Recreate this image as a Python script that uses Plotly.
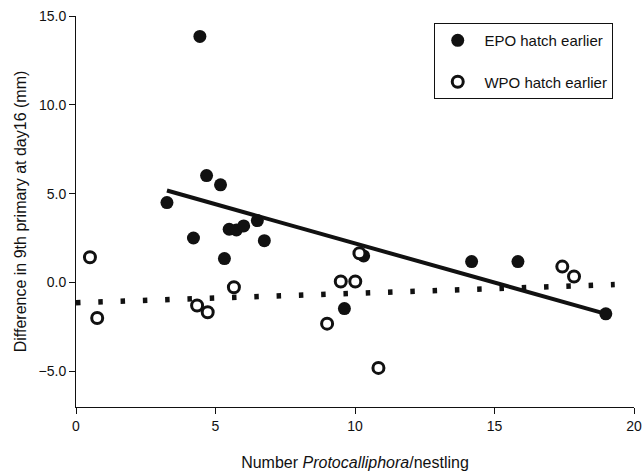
import plotly.graph_objects as go

# EPO hatch earlier (filled)
epo_x = [4.44, 3.26, 4.21, 4.68, 5.18, 5.32, 5.49, 5.75, 6.01, 6.50, 6.75, 10.31, 9.62, 14.18, 15.84, 18.99]
epo_y = [13.85, 4.50, 2.51, 6.02, 5.50, 1.35, 3.00, 2.96, 3.19, 3.49, 2.36, 1.50, -1.46, 1.18, 1.18, -1.76]

# WPO hatch earlier (open)
wpo_x = [0.50, 0.76, 4.34, 4.72, 5.66, 9.00, 9.49, 10.01, 10.16, 10.84, 17.43, 17.85]
wpo_y = [1.43, -1.99, -1.29, -1.67, -0.26, -2.31, 0.06, 0.06, 1.65, -4.80, 0.90, 0.34]

# regression lines (endpoints)
epo_fit_x = [3.26, 18.99]
epo_fit_y = [5.18, -1.76]
wpo_fit_x = [0.0, 19.31]
wpo_fit_y = [-1.13, -0.11]

x_ticks = [0, 5, 10, 15, 20]
y_ticks = [-5, 0, 5, 10, 15]

FONT = "Liberation Sans, Arial, sans-serif"
INK = "#111111"

fig = go.Figure()

fig.add_trace(go.Scatter(x=wpo_fit_x, y=wpo_fit_y, mode="lines",
                         line=dict(color=INK, width=5.5, dash="4.5px,17.8px"),
                         showlegend=False, hoverinfo="skip"))
fig.add_trace(go.Scatter(x=epo_fit_x, y=epo_fit_y, mode="lines",
                         line=dict(color=INK, width=4),
                         showlegend=False, hoverinfo="skip"))

fig.add_trace(go.Scatter(x=epo_x, y=epo_y, mode="markers", name="&nbsp;EPO hatch earlier",
                         legendgroup="a",
                         marker=dict(symbol="circle", size=13, color=INK, line=dict(width=0))))
fig.add_trace(go.Scatter(x=wpo_x, y=wpo_y, mode="markers", name="&nbsp;WPO hatch earlier",
                         legendgroup="b",
                         marker=dict(symbol="circle", size=11, color="white",
                                     line=dict(width=3, color=INK))))

fig.update_layout(
    width=644, height=473,
    margin=dict(l=76, r=10, t=16, b=66, autoexpand=False),
    paper_bgcolor="white", plot_bgcolor="white",
    font=dict(family=FONT, size=14, color=INK),
    showlegend=True,
    legend=dict(x=0.642, y=0.982, xanchor="left", yanchor="top",
                bordercolor=INK, borderwidth=1, bgcolor="white",
                font=dict(size=15), tracegroupgap=19, traceorder="grouped",
                itemwidth=35, entrywidth=190, entrywidthmode="pixels"),
    xaxis=dict(range=[0, 20], tickvals=x_ticks, showline=True, linecolor=INK, linewidth=1,
               ticks="outside", ticklen=6, tickcolor=INK, showgrid=False, zeroline=False,
               tickfont=dict(size=14), automargin=False,
               title=dict(text="Number <i>Protocalliphora</i>/nestling", font=dict(size=16), standoff=24)),
    yaxis=dict(range=[-7, 15], tickvals=y_ticks, tickformat=".1f", showline=True, linecolor=INK,
               linewidth=1, ticks="outside", ticklen=6, tickcolor=INK, showgrid=False, zeroline=False,
               tickfont=dict(size=14), automargin=False,
               title=dict(text="Difference in 9th primary at day16 (mm)", font=dict(size=16), standoff=7)),
)

fig.write_html("out.html", config={"displayModeBar": False},
               post_script="document.body.style.margin='0';document.body.style.overflow='hidden';")
